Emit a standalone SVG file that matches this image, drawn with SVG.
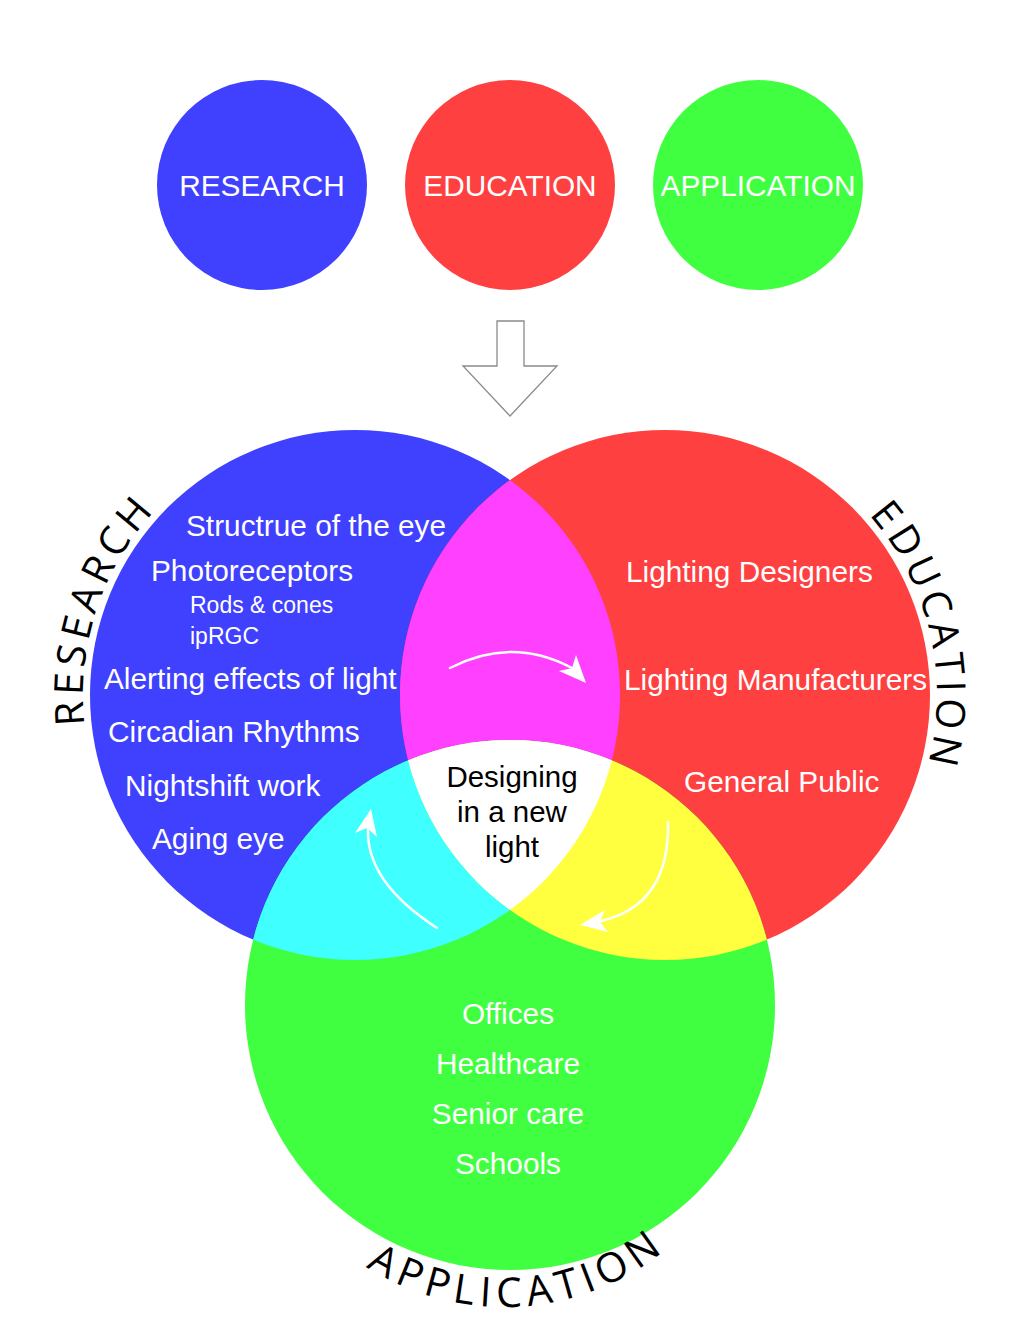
<svg xmlns="http://www.w3.org/2000/svg" width="1020" height="1320" viewBox="0 0 1020 1320">
  <style>
    .lbl { font-family: "Liberation Sans", Arial, sans-serif; font-size: 29.8px; fill: #ffffff; }
    .sub { font-family: "Liberation Sans", Arial, sans-serif; font-size: 23px; fill: #ffffff; }
    .core { font-family: "Liberation Sans", Arial, sans-serif; font-size: 29.5px; fill: #000000; text-anchor: middle; }
    .ring { font-family: "Open Sans", "DejaVu Sans", sans-serif; font-size: 40px; fill: #000000; text-anchor: middle; letter-spacing: 5px; }
    .ring-wide { font-size: 41px; letter-spacing: 6px; }
    .mid { text-anchor: middle; }
    .flow { fill: none; stroke: #ffffff; stroke-width: 2.5; stroke-linecap: round; }
    .head { fill: #ffffff; }
  </style>
  <defs>
    <clipPath id="clipBlue"><circle cx="355" cy="695" r="265"/></clipPath>
    <clipPath id="clipRed"><circle cx="665" cy="695" r="265"/></clipPath>
    <!-- baselines for the curved titles -->
    <path id="arcResearch" d="M119.4,831 A272,272 0 0 1 248.7,444.6"/>
    <path id="arcEducation" d="M836.2,483.6 A272,272 0 0 1 911.5,809.9"/>
    <path id="arcApplication" d="M290.5,1192.3 A256,256 0 0 0 733.1,1165.2"/>
  </defs>

  <rect width="1020" height="1320" fill="#ffffff"/>

  <!-- three pillars -->
  <g id="pillar-research">
    <circle cx="262" cy="185" r="105" fill="#4040ff"/>
    <text class="lbl mid" x="262" y="196">RESEARCH</text>
  </g>
  <g id="pillar-education">
    <circle cx="510" cy="185" r="105" fill="#ff4040"/>
    <text class="lbl mid" x="510" y="196">EDUCATION</text>
  </g>
  <g id="pillar-application">
    <circle cx="758" cy="185" r="105" fill="#40ff40"/>
    <text class="lbl mid" x="758" y="196">APPLICATION</text>
  </g>

  <!-- Venn of the three fields -->
  <g id="venn-research">
    <circle cx="355" cy="695" r="265" fill="#4040ff"/>
  </g>
  <g id="venn-education">
    <circle cx="665" cy="695" r="265" fill="#ff4040"/>
  </g>
  <g id="venn-application">
    <circle cx="510" cy="1005" r="265" fill="#40ff40"/>
  </g>
  <g id="venn-overlaps">
    <circle cx="665" cy="695" r="265" fill="#ff40ff" clip-path="url(#clipBlue)"/>
    <circle cx="510" cy="1005" r="265" fill="#40ffff" clip-path="url(#clipBlue)"/>
    <circle cx="510" cy="1005" r="265" fill="#ffff40" clip-path="url(#clipRed)"/>
    <g clip-path="url(#clipBlue)">
      <circle cx="510" cy="1005" r="265" fill="#ffffff" clip-path="url(#clipRed)"/>
    </g>
  </g>

  <!-- field contents -->
  <g id="research-topics">
    <text class="lbl" x="186" y="536">Structrue of the eye</text>
    <text class="lbl" x="151" y="581">Photoreceptors</text>
    <text class="sub" x="190" y="613">Rods &amp; cones</text>
    <text class="sub" x="190" y="644">ipRGC</text>
    <text class="lbl" x="104" y="689">Alerting effects of light</text>
    <text class="lbl" x="108" y="742">Circadian Rhythms</text>
    <text class="lbl" x="125" y="796">Nightshift work</text>
    <text class="lbl" x="152" y="849">Aging eye</text>
  </g>
  <g id="education-topics">
    <text class="lbl" x="626" y="582">Lighting Designers</text>
    <text class="lbl" x="624" y="690">Lighting Manufacturers</text>
    <text class="lbl" x="684" y="792">General Public</text>
  </g>
  <g id="application-topics">
    <text class="lbl mid" x="508" y="1024">Offices</text>
    <text class="lbl mid" x="508" y="1074">Healthcare</text>
    <text class="lbl mid" x="508" y="1124">Senior care</text>
    <text class="lbl mid" x="508" y="1174">Schools</text>
  </g>
  <g id="core">
    <text class="core" x="512" y="787">Designing</text>
    <text class="core" x="512" y="822">in a new</text>
    <text class="core" x="512" y="857">light</text>
  </g>

  <!-- curved field titles -->
  <g id="titles">
    <text class="ring"><textPath href="#arcResearch" startOffset="50%">RESEARCH</textPath></text>
    <text class="ring"><textPath href="#arcEducation" startOffset="50%">EDUCATION</textPath></text>
    <text class="ring ring-wide"><textPath href="#arcApplication" startOffset="50%">APPLICATION</textPath></text>
  </g>

  <!-- connectors -->
  <g id="connectors">
    <polygon points="497,321 524,321 524,366 557,366 510,416 463,366 497,366" fill="#ffffff" stroke="#8a8a8a" stroke-width="1.3"/>
    <path class="flow" d="M450,668 Q512,636 572,668"/>
    <polygon class="head" points="576,655 586,683 559,671 572,668"/>
    <path class="flow" d="M437,928 Q366,882 368,829"/>
    <polygon class="head" points="371,809 377,837 367,828 355,833"/>
    <path class="flow" d="M668,822 Q670,905 601,921"/>
    <polygon class="head" points="580,925 605,910 600,922 608,932"/>
  </g>
</svg>
